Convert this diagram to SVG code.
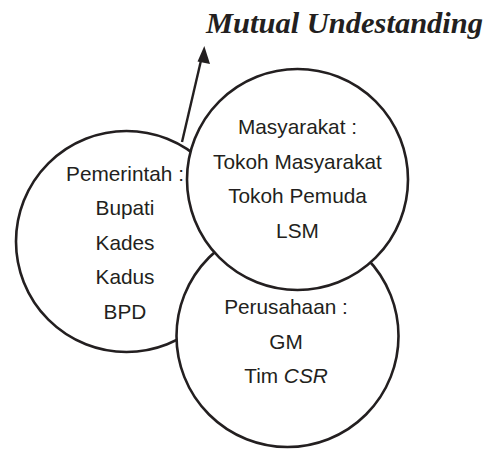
<svg xmlns="http://www.w3.org/2000/svg" width="492" height="449" viewBox="0 0 492 449">
  <style>
    .c { fill: #ffffff; stroke: #231f20; stroke-width: 2.6; }
    .t { font-family: "Liberation Sans", Arial, sans-serif; font-size: 20.8px; fill: #231f20; text-anchor: middle; }
    .title { font-family: "Liberation Serif", "Times New Roman", serif; font-size: 29px; font-weight: bold; font-style: italic; fill: #231f20; }
    .conn { stroke: #231f20; stroke-width: 2.4; fill: none; }
  </style>
  <defs>
    <marker id="ah" markerWidth="10" markerHeight="10" refX="8" refY="5" orient="auto" markerUnits="userSpaceOnUse" viewBox="0 0 10 10">
      <path d="M0,0 L10,5 L0,10 Z" fill="#231f20"/>
    </marker>
  </defs>
  <rect width="492" height="449" fill="#ffffff"/>
  <text class="title" x="206" y="33" textLength="277" lengthAdjust="spacingAndGlyphs">Mutual Undestanding</text>
  <g id="connectors">
    <line class="conn" x1="182" y1="142" x2="202.5" y2="54"/>
    <path d="M204.3,46 L210,64 L197.5,61.5 Z" fill="#231f20"/>
  </g>
  <g id="pemerintah">
    <circle class="c" cx="126.5" cy="241.5" r="110.5"/>
    <text class="t" x="125" y="181">Pemerintah :</text>
    <text class="t" x="125" y="215">Bupati</text>
    <text class="t" x="125" y="249.5">Kades</text>
    <text class="t" x="125" y="284">Kadus</text>
    <text class="t" x="125" y="318.5">BPD</text>
  </g>
  <g id="perusahaan">
    <circle class="c" cx="287.5" cy="336" r="111"/>
    <text class="t" x="286" y="313.5">Perusahaan :</text>
    <text class="t" x="286" y="348.5">GM</text>
    <text class="t" x="286" y="383">Tim <tspan font-style="italic">CSR</tspan></text>
  </g>
  <g id="masyarakat">
    <circle class="c" cx="297.5" cy="179.5" r="110.5"/>
    <text class="t" x="297.5" y="134">Masyarakat :</text>
    <text class="t" x="297.5" y="168.5">Tokoh Masyarakat</text>
    <text class="t" x="297.5" y="203">Tokoh Pemuda</text>
    <text class="t" x="297.5" y="237.5">LSM</text>
  </g>
</svg>
